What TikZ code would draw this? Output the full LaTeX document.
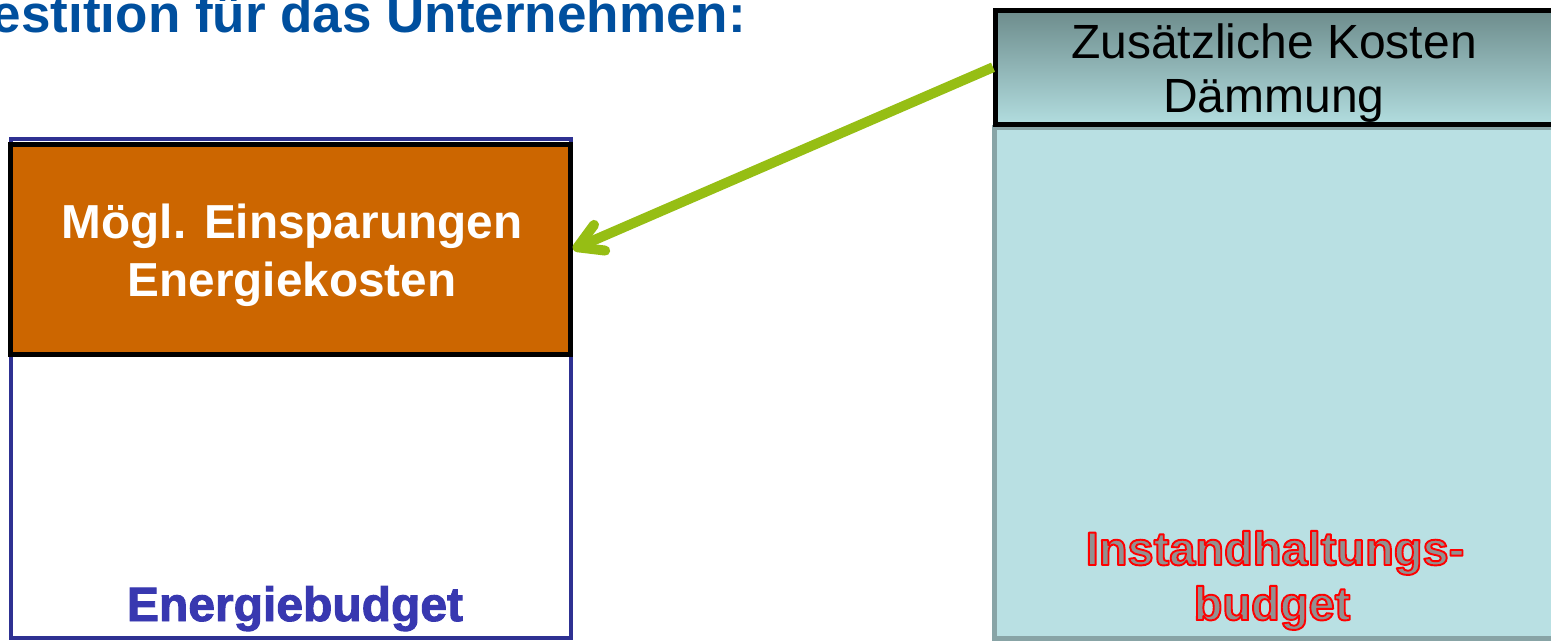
\documentclass[tikz,border=0pt]{standalone}
\usepackage{fontspec}
\setmainfont{Liberation Sans}
\newfontfamily\budgetfont{Liberation Sans Bold}[FakeBold=2]
\usetikzlibrary{arrows.meta}

\definecolor{navyframe}{RGB}{46,49,146}
\definecolor{savorange}{RGB}{204,102,0}
\definecolor{bodyteal}{RGB}{185,224,227}
\definecolor{bodyedge}{RGB}{136,164,166}
\definecolor{hdrtop}{RGB}{109,140,140}
\definecolor{hdrbot}{RGB}{178,221,223}
\definecolor{arrowgreen}{RGB}{150,190,20}
\definecolor{titleblue}{RGB}{0,79,158}
\definecolor{budgetblue}{RGB}{56,56,176}
\definecolor{instgray}{RGB}{145,145,145}

% gray letters, filled and then stroked in red
\newcommand\redoutline[1]{{\color{instgray}%
  \special{pdf:literal direct 2 Tr 1.9 w 1 j 1 0 0 RG}#1%
  \special{pdf:literal direct 0 Tr}}}

\tikzset{
  panel/.style={inner sep=0pt},
  label/.style={anchor=base, inner sep=0pt},
  boxtext/.style={label, text=white, font=\bfseries\fontsize{47.7}{54}\selectfont},
  hdrtext/.style={label, font=\fontsize{48}{54}\selectfont},
  insttext/.style={label, font=\bfseries\fontsize{47}{52}\selectfont},
  link/.style={draw=arrowgreen, line width=10pt,
    -{Straight Barb[length=24pt,width=28pt,round]}},
}

\begin{document}
\begin{tikzpicture}[x=1pt,y=-1pt]
\useasboundingbox (0,0) rectangle (1551,641);

% heading, running off the top edge
\node[anchor=base east, inner sep=0pt, text=titleblue,
      font=\bfseries\fontsize{53}{60}\selectfont] (title) at (746,32)
      {estition für das Unternehmen:};

% left: energy budget with the savings block on top
\node[panel, draw=navyframe, line width=4pt, minimum width=560pt,
      minimum height=498.5pt] (ebud) at (291,388.25) {};
\node[panel, fill=savorange, draw=black, line width=5pt, minimum width=560pt,
      minimum height=209.5pt] (sav) at (290.5,249.25) {};
\node[boxtext] (s1) at (292,238) {Mögl. Einsparungen};
\node[boxtext] (s2) at (292,296) {Energiekosten};
\node[label, text=budgetblue, font=\budgetfont\fontsize{48}{54}\selectfont]
      (eb) at (295,621) {Energiebudget};

% right: maintenance budget with the insulation cost header
\node[panel, fill=bodyteal, draw=bodyedge, line width=5pt, minimum width=570pt,
      minimum height=511.5pt] (inst) at (1279.5,382.75) {};
\node[panel, draw=black, line width=5pt, top color=hdrtop, bottom color=hdrbot,
      minimum width=570pt, minimum height=114.5pt] (hdr) at (1280.5,67.25) {};
\node[hdrtext] (z1) at (1274,58) {Zusätzliche Kosten};
\node[hdrtext] (z2) at (1274,112) {Dämmung};
\node[insttext] (i1) at (1275,565) {\redoutline{Instandhaltungs-}};
\node[insttext] (i2) at (1272,620) {\redoutline{budget}};

% arrow from the insulation costs to the savings
\draw[link] (hdr.west) -- (sav.east);
\end{tikzpicture}
\end{document}
